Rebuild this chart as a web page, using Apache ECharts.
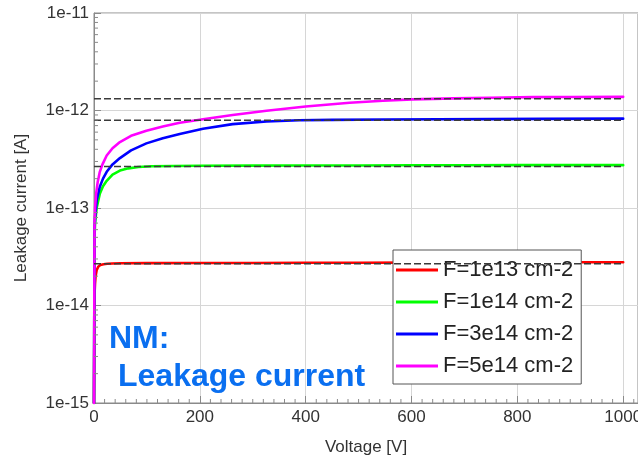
<!DOCTYPE html>
<html>
<head>
<meta charset="utf-8">
<script src="https://cdn.jsdelivr.net/npm/echarts@6/dist/echarts.min.js"></script>
<style>
  html, body { margin: 0; padding: 0; background: #fff; }
  #chart { width: 638px; height: 459px; }
</style>
</head>
<body>
<div id="chart"></div>
<script>
// Leakage current vs. bias voltage for four fluences (NM sensor)
const seriesNames = ['F=1e13 cm-2', 'F=1e14 cm-2', 'F=3e14 cm-2', 'F=5e14 cm-2'];
const seriesColors = ['#ff0000', '#00ff00', '#0000ff', '#ff00ff'];

const voltageF1e13 = [0, 1, 2, 3, 5, 8, 12, 18, 25, 35, 50, 100, 200, 300, 400, 500, 600, 700, 800, 900, 1000];
const currentF1e13 = [1e-15, 1.3e-14, 1.7e-14, 2.0e-14, 2.3e-14, 2.5e-14, 2.6e-14, 2.65e-14, 2.68e-14, 2.7e-14, 2.71e-14,
  2.72e-14, 2.73e-14, 2.73e-14, 2.74e-14, 2.74e-14, 2.75e-14, 2.76e-14, 2.77e-14, 2.78e-14, 2.78e-14];

const voltageF1e14 = [0, 1, 2, 5, 11, 17, 24, 35, 49, 65, 84, 109, 150, 200, 300, 400, 500, 600, 700, 800, 900, 1000];
const currentF1e14 = [1e-15, 5e-14, 7e-14, 1.0e-13, 1.4e-13, 1.67e-13, 1.9e-13, 2.2e-13, 2.42e-13, 2.55e-13, 2.63e-13,
  2.68e-13, 2.7e-13, 2.71e-13, 2.72e-13, 2.73e-13, 2.73e-13, 2.74e-13, 2.74e-13, 2.75e-13, 2.75e-13, 2.75e-13];

const voltageF3e14 = [0, 1, 2, 5, 11, 17, 24, 35, 49, 70, 99, 130, 162, 206, 262, 326, 388, 450, 550, 650, 750, 850, 1000];
const currentF3e14 = [1e-15, 6e-14, 8e-14, 1.2e-13, 1.65e-13, 2.0e-13, 2.35e-13, 2.8e-13, 3.25e-13, 3.9e-13, 4.6e-13,
  5.2e-13, 5.75e-13, 6.5e-13, 7.25e-13, 7.72e-13, 7.95e-13, 8.02e-13, 8.08e-13, 8.12e-13, 8.15e-13, 8.2e-13, 8.25e-13];

const voltageF5e14 = [0, 1, 2, 4, 7, 11, 16, 24, 35, 49, 70, 99, 130, 162, 206, 262, 326, 400, 483, 546, 602, 680,
  750, 830, 900, 1000];
const currentF5e14 = [1e-15, 7e-14, 1.0e-13, 1.4e-13, 1.85e-13, 2.35e-13, 2.8e-13, 3.45e-13, 4.1e-13, 4.75e-13, 5.5e-13,
  6.2e-13, 6.85e-13, 7.5e-13, 8.15e-13, 9.0e-13, 9.95e-13, 1.1e-12, 1.2e-12, 1.26e-12, 1.3e-12, 1.33e-12,
  1.35e-12, 1.37e-12, 1.375e-12, 1.38e-12];

// Saturation levels (dashed reference lines)
const saturationLevels = [1.32e-12, 7.95e-13, 2.66e-13, 2.68e-14];
const saturationRange = [0, 1000];

// Axes
const xTickValues = [0, 200, 400, 600, 800, 1000];
const yTickLabels = ['1e-15', '1e-14', '1e-13', '1e-12', '1e-11'];
const xMin = 0, xMax = 1028;
const yMin = 1e-15, yMax = 1e-11;

const pairs = (xs, ys) => xs.map((x, i) => [x, ys[i]]);
const curveData = [
  pairs(voltageF1e13, currentF1e13),
  pairs(voltageF1e14, currentF1e14),
  pairs(voltageF3e14, currentF3e14),
  pairs(voltageF5e14, currentF5e14)
];

// Minor tick values: every 20 V on x, 2..9 per decade on y
const xMinor = [];
for (let v = 20; v < xMax; v += 20) if (v % 200 !== 0) xMinor.push([v, yMin]);
const yMinor = [];
for (let e = -15; e < -11; e++) for (let m = 2; m <= 9; m++) yMinor.push([xMin, m * Math.pow(10, e)]);

const axisGray = '#8a8a8a';
const textGray = '#333333';

const series = [];
curveData.forEach((d, i) => {
  series.push({
    name: seriesNames[i], type: 'line', data: d, showSymbol: false, smooth: false, sampling: null,
    lineStyle: { color: seriesColors[i], width: 2.6, join: 'round', cap: 'round' }, itemStyle: { color: seriesColors[i] },
    z: 3 + i
  });
});
saturationLevels.forEach((lv, i) => {
  series.push({
    name: 'sat' + i, type: 'line', data: saturationRange.map(x => [x, lv]), showSymbol: false,
    lineStyle: { color: '#3a3a3a', width: 1.4, type: [7, 3] }, z: 10, silent: true
  });
});
series.push({
  type: 'custom', data: xMinor, silent: true, z: 11, clip: false,
  renderItem: (params, api) => {
    const p = api.coord([api.value(0), api.value(1)]);
    return { type: 'line', shape: { x1: p[0], y1: p[1], x2: p[0], y2: p[1] - 4 }, style: { stroke: axisGray, lineWidth: 1 } };
  }
});
series.push({
  type: 'custom', data: yMinor, silent: true, z: 11, clip: false,
  renderItem: (params, api) => {
    const p = api.coord([api.value(0), api.value(1)]);
    return { type: 'line', shape: { x1: p[0], y1: p[1], x2: p[0] + 4, y2: p[1] }, style: { stroke: axisGray, lineWidth: 1 } };
  }
});

const chart = echarts.init(document.getElementById('chart'), null, { renderer: 'canvas' });
chart.setOption({
  animation: false,
  backgroundColor: '#ffffff',
  textStyle: { fontFamily: 'Liberation Sans, Arial, sans-serif' },
  grid: { left: 94, right: 0, top: 13, bottom: 56, show: true, borderColor: axisGray, borderWidth: 1,
    backgroundColor: 'transparent', outerBoundsMode: 'none', containLabel: false },
  xAxis: {
    type: 'value', min: xMin, max: xMax, interval: 200,
    name: 'Voltage [V]', nameLocation: 'middle', nameGap: 36,
    nameTextStyle: { fontSize: 17, color: textGray },
    axisLine: { lineStyle: { color: axisGray } },
    axisTick: { inside: true, length: 7, lineStyle: { color: axisGray } },
    splitLine: { show: true, lineStyle: { color: '#d6d6d6', width: 1 } },
    axisLabel: { fontSize: 17, color: textGray, margin: 6, hideOverlap: false,
      formatter: v => (xTickValues.indexOf(v) >= 0 ? String(v) : '') }
  },
  yAxis: {
    type: 'log', logBase: 10, min: yMin, max: yMax,
    name: 'Leakage current [A]', nameLocation: 'middle', nameGap: 64,
    nameTextStyle: { fontSize: 17, color: textGray },
    axisLine: { lineStyle: { color: axisGray } },
    axisTick: { inside: true, length: 7, lineStyle: { color: axisGray } },
    splitLine: { show: true, lineStyle: { color: '#d6d6d6', width: 1 } },
    axisLabel: { fontSize: 17, color: textGray, margin: 5,
      formatter: v => yTickLabels[Math.round(Math.log10(v)) + 15] || '' }
  },
  legend: {
    data: seriesNames, orient: 'vertical', left: 393, top: 250,
    backgroundColor: '#ffffff', borderColor: '#555555', borderWidth: 1, borderRadius: 0,
    padding: [8, 8, 6, 3], itemGap: 8, itemWidth: 42, itemHeight: 3, icon: 'rect',
    textStyle: { fontSize: 22, color: '#222222', lineHeight: 24 }
  },
  graphic: [
    { type: 'text', left: 109, top: 323, z: 20,
      style: { text: 'NM:', font: 'bold 32px "Liberation Sans", Arial, sans-serif', fill: '#0a6ff0' } },
    { type: 'text', left: 118, top: 361, z: 20,
      style: { text: 'Leakage current', font: 'bold 32px "Liberation Sans", Arial, sans-serif', fill: '#0a6ff0' } }
  ],
  series: series
});
</script>
</body>
</html>
